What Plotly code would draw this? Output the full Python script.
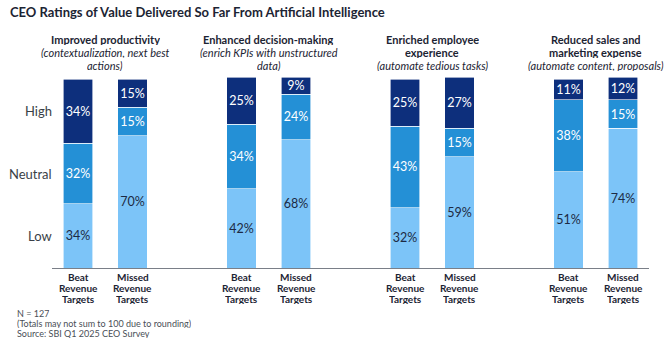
import plotly.graph_objects as go

group_titles = [["Improved productivity"], ["Enhanced decision-making"],
                ["Enriched employee", "experience"], ["Reduced sales and", "marketing expense"]]
group_subs = [["(contextualization, next best", "actions)"], ["(enrich KPIs with unstructured", "data)"],
              ["(automate tedious tasks)"], ["(automate content, proposals)"]]
bar_labels = [["Beat", "Revenue", "Targets"], ["Missed", "Revenue", "Targets"]] * 4
x_pos = [0, 1, 3, 4, 6, 7, 9, 10]

low = [34, 70, 42, 68, 32, 59, 51, 74]
neutral = [32, 15, 34, 24, 43, 15, 38, 15]
high = [34, 15, 25, 9, 25, 27, 11, 12]

levels = ["Low", "Neutral", "High"]
colors = ["#7cc4f8", "#2490d6", "#0d2f7c"]
text_colors = ["#1c2a44", "white", "white"]
notes = ["N = 127", "(Totals may not sum to 100 due to rounding)", "Source: SBI Q1 2025 CEO Survey"]

PLOT_TOP, PLOT_H = 70, 198


def py(pix):
    return 1 + (PLOT_TOP - pix) / PLOT_H


fig = go.Figure()
for name, vals, col, tc in zip(levels, [low, neutral, high], colors, text_colors):
    fig.add_trace(go.Bar(
        x=x_pos, y=vals, name=name, width=0.55,
        marker=dict(color=col, line=dict(color="white", width=0.6)),
        text=[f"{v}%" for v in vals], textposition="inside", insidetextanchor="middle",
        textfont=dict(family="Lato", size=12.5, color=tc), textangle=0,
        hoverinfo="skip", cliponaxis=False, constraintext="none",
    ))

fig.update_layout(
    barmode="stack", width=670, height=344, showlegend=False,
    margin=dict(l=52, r=21, t=PLOT_TOP, b=344 - PLOT_TOP - PLOT_H),
    paper_bgcolor="white", plot_bgcolor="white",
    uniformtext=dict(mode="show", minsize=12.5),
    xaxis=dict(range=[-0.477, 10.477], showticklabels=False, showgrid=False, zeroline=False,
               showline=True, linecolor="#7a7f88", linewidth=1.2, ticks=""),
    yaxis=dict(range=[0, 104.8], showticklabels=False, showgrid=False, zeroline=False, showline=False),
    font=dict(family="Lato", color="#1c2433"),
)

ann = []
ann.append(dict(text="<b>CEO Ratings of Value Delivered So Far From Artificial Intelligence</b>",
                xref="paper", yref="paper", x=-44 / 597, y=py(12), xanchor="left", yanchor="middle",
                showarrow=False, font=dict(family="Lato", size=13, color="#1c2433", weight=900)))

for i, (gt, gs) in enumerate(zip(group_titles, group_subs)):
    cx = (x_pos[2 * i] + x_pos[2 * i + 1]) / 2
    lines = [(t, True) for t in gt] + [(s, False) for s in gs]
    for j, (t, bold) in enumerate(lines):
        ann.append(dict(text=f"<b>{t}</b>" if bold else f"<i>{t}</i>",
                        xref="x", yref="paper", x=cx, y=py(39 + 12.8 * j), xanchor="center", yanchor="middle",
                        showarrow=False, height=12, borderpad=0,
                        font=dict(family="Lato", size=11, color="#1c2433", weight=800 if bold else 400)))

for xp, lab in zip(x_pos, bar_labels):
    for j, t in enumerate(lab):
        ann.append(dict(text=f"<b>{t}</b>", xref="x", yref="paper", x=xp, y=py(276.5 + 11.3 * j),
                        xanchor="center", yanchor="middle", showarrow=False, height=10, borderpad=0,
                        font=dict(family="Lato", size=10, color="#1c2433", weight=900)))

for lvl, yy in zip(["High", "Neutral", "Low"], [83, 49.7, 17]):
    ann.append(dict(text=lvl, xref="paper", yref="y", x=0, y=yy, xanchor="right", yanchor="middle",
                    xshift=2, showarrow=False, font=dict(family="Lato", size=13, color="#3a3f47")))

for j, t in enumerate(notes):
    ann.append(dict(text=t, xref="paper", yref="paper", x=-36 / 597, y=py(313 + 10 * j),
                    xanchor="left", yanchor="middle", showarrow=False, height=9, borderpad=0,
                    font=dict(family="Lato", size=9, color="#4a4f57")))

fig.update_layout(annotations=ann)
fig.write_html("out.html")
